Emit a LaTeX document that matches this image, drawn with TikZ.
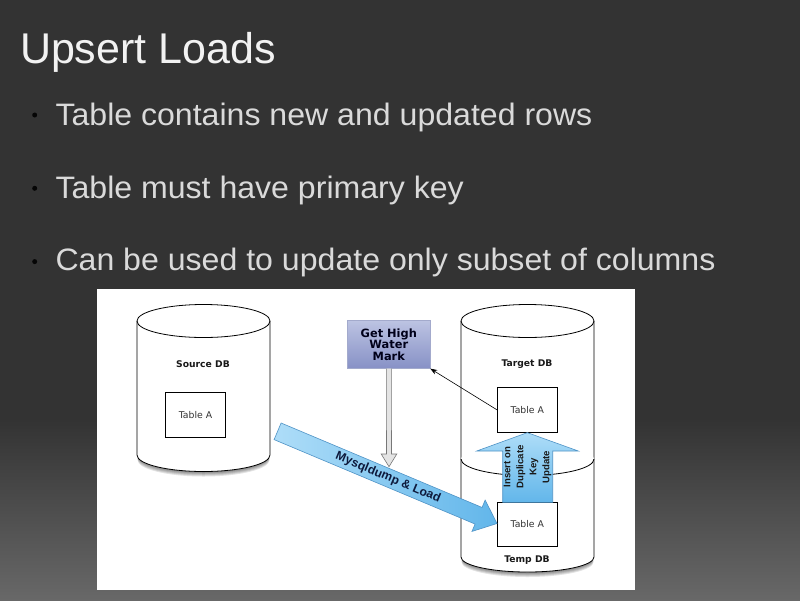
\documentclass[tikz,border=0pt]{standalone}
\usepackage{fontspec}
\setmainfont{Liberation Sans}
\newfontfamily\dvsans{DejaVu Sans}
\newfontfamily\widesans[FakeStretch=1.035]{Liberation Sans}
\usetikzlibrary{arrows.meta,calc}
\definecolor{bgdark}{HTML}{333333}
\definecolor{bglight}{HTML}{686868}
\definecolor{titlecol}{HTML}{F2F2F2}
\definecolor{bulletcol}{HTML}{DADADA}
\definecolor{dotcol}{HTML}{050505}
\definecolor{hwtop}{HTML}{BCC3E2}
\definecolor{hwbot}{HTML}{8791C6}
\definecolor{hwline}{HTML}{A3AACC}
\definecolor{bluelight}{HTML}{AEDDF8}
\definecolor{bluedark}{HTML}{62B6EA}
\definecolor{blueline}{HTML}{4F93C6}
\definecolor{navytext}{HTML}{0E1A3C}
\definecolor{grayfill}{HTML}{E4E4E4}
\definecolor{grayline}{HTML}{777777}
\begin{document}
\begin{tikzpicture}[x=1pt,y=-1pt,
  dblabel/.style={font=\dvsans\bfseries\fontsize{9.2}{11}\selectfont, text=black!90, inner sep=0},
  tablebox/.style={draw=black, line width=0.7pt, fill=white, minimum width=60pt, minimum height=45pt, inner sep=0, font=\dvsans\fontsize{9.3}{11}\selectfont, text=black!80},
  cyl/.style={draw=black, line width=0.8pt},
  bulletdot/.style={coordinate},
  bullettext/.style={anchor=base west, inner sep=0, text=bulletcol, font=\widesans\fontsize{31}{36}\selectfont},
  bigblue/.style={draw=blueline, line width=0.6pt, left color=bluelight, right color=bluedark},
  shadowlayer/.style={fill=black, opacity=0.11},
]
\useasboundingbox (0,0) rectangle (800,600);
% background
\fill[bgdark] (0,0) rectangle (800,600);
\shade[top color=bgdark, bottom color=bglight] (0,420) rectangle (800,600);

% title and bullets
\node[anchor=base west, inner sep=0, text=titlecol, font=\fontsize{43}{50}\selectfont] (title) at (19.8,63.5) {Upsert Loads};
\coordinate (d1) at (34.7,115);
\coordinate (d2) at (34.7,188.3);
\coordinate (d3) at (34.7,261.6);
\foreach \p in {d1,d2,d3}{ \fill[dotcol] (\p) circle[radius=2.5]; }
\node[bullettext] (t1) at (55.3,125.5) {Table contains new and updated rows};
\node[bullettext] (t2) at (55.3,198.3) {Table must have primary key};
\node[bullettext] (t3) at (55.3,270.7) {Can be used to update only subset of columns};

% panel
\fill[white] (97,289) rectangle (635,590);

% shadows
\foreach \d in {1,2,3,4,5}{
  \fill[shadowlayer] (203.5,{455+\d}) ellipse[x radius=66, y radius=16.5];
  \fill[shadowlayer] (527.5,{557+\d}) ellipse[x radius=66, y radius=15];
}

% target DB cylinder
\fill[white] (461,321) -- (461,459) arc[start angle=180,end angle=0,x radius=66.5,y radius=16.5] -- (594,321) arc[start angle=0,end angle=-180,x radius=66.5,y radius=16.5] -- cycle;
\draw[cyl] (461,459) -- (461,321) arc[start angle=180,end angle=360,x radius=66.5,y radius=16.5] -- (594,459);
\draw[cyl] (461,321) arc[start angle=180,end angle=0,x radius=66.5,y radius=16.5];

% temp DB cylinder
\fill[white] (461,459) arc[start angle=180,end angle=360,x radius=66.5,y radius=16.5] -- (594,557) arc[start angle=0,end angle=180,x radius=66.5,y radius=15] -- cycle;
\draw[cyl] (461,459) -- (461,557) arc[start angle=180,end angle=0,x radius=66.5,y radius=15] -- (594,459);
\draw[cyl] (461,459) arc[start angle=180,end angle=0,x radius=66.5,y radius=16.5];

% source DB cylinder
\draw[cyl, fill=white] (137,321) -- (137,455) arc[start angle=180,end angle=0,x radius=66.5,y radius=16.5] -- (270,321) arc[start angle=0,end angle=-180,x radius=66.5,y radius=16.5] -- cycle;
\draw[cyl] (137,321) arc[start angle=180,end angle=0,x radius=66.5,y radius=16.5];

% labels
\node[dblabel] (srclbl) at (203,364) {Source DB};
\node[dblabel] (tgtlbl) at (527,364.3) {Target DB};
\node[dblabel] (tmplbl) at (527,560) {Temp DB};

% tables
\node[tablebox, minimum width=59.6pt, minimum height=44.6pt] (srcA) at (195.5,415) {Table A};
\node[tablebox] (tgtA) at (527.3,409.8) {Table A};
\node[tablebox, minimum height=44.4pt] (tmpA) at (527.3,524.5) {Table A};

% high water mark box
\node[draw=hwline, line width=0.6pt, top color=hwtop, bottom color=hwbot, minimum width=82.3pt, minimum height=47.6pt, inner sep=0, align=center, text=black!90!blue, font=\dvsans\bfseries\fontsize{11.4}{11.5}\selectfont] (hw) at (388.8,344.5) {Get High\\Water\\Mark};

% Mysqldump & Load arrow
\coordinate (dumpstart) at (277.6,431.3);
\coordinate (dumptip) at (497,523.5);
\draw[bigblue] (281.1,423.0) -- (482.05,507.45) -- (485.15,500.08) -- (dumptip) -- (471.97,531.42) -- (475.07,524.05) -- (274.1,439.6) -- cycle;
\node[rotate=-22.8, inner sep=0, text=navytext, font=\bfseries\fontsize{12.2}{13}\selectfont] (dumplbl) at (388,477.7) {Mysqldump \& Load};

% gray arrow from high water mark
\coordinate (hwtip) at (389,466.7);
\draw[grayline, fill=grayfill, line width=0.6pt] ($(hw.south)+(-2.5,0)$) -- (386.5,454) -- (381.2,454) -- (hwtip) -- (396.8,454) -- (391.5,454) -- ($(hw.south)+(2.5,0)$);

% upsert arrow
\draw[draw=blueline, line width=0.6pt, top color=bluelight, bottom color=bluedark] (502.7,502.3) -- (502.7,451) -- (476.7,451) -- (tgtA.south) -- (578.3,451) -- (552.7,451) -- (552.7,502.3) -- cycle;
\node[rotate=90, inner sep=0, align=center, text=black!90, font=\bfseries\fontsize{9.6}{13}\selectfont] (upslbl) at (527.5,467) {Insert on\\Duplicate\\Key\\Update};

% thin arrow to high water mark
\draw[line width=0.6pt, -{Stealth[length=7pt,width=5pt]}] (tgtA.west) -- (hw.south east);
\end{tikzpicture}
\end{document}
